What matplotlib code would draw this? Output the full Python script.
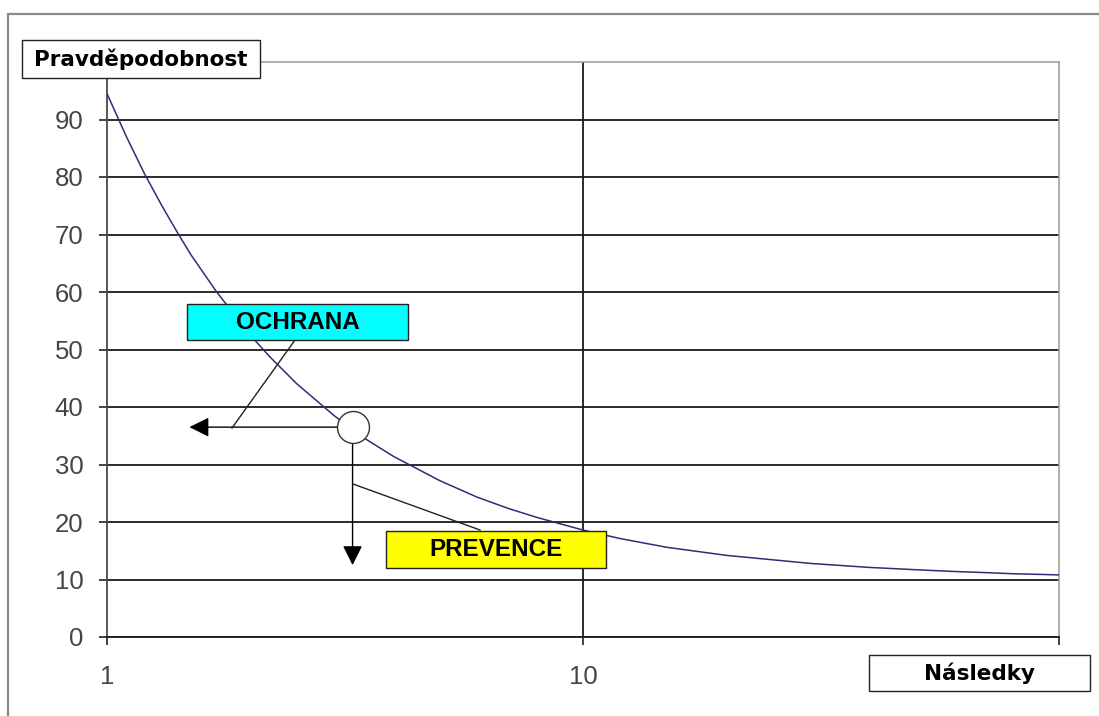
import matplotlib
matplotlib.use("Agg")
import matplotlib.pyplot as plt
from matplotlib.patches import Rectangle

# Consequence (log scale) vs. probability curve
nasledky = [1, 1.1, 1.2, 1.3, 1.4, 1.5, 1.7, 2, 2.2, 2.5, 3, 3.5, 4, 5, 6, 7, 8, 10, 12, 15,
            20, 30, 40, 50, 60, 70, 80, 90, 100]
pravdepodobnost = [94.5, 86.9, 80.5, 75.2, 70.6, 66.5, 60.0, 52.5, 48.7, 44.1, 38.5, 34.4,
                   31.4, 27.2, 24.3, 22.3, 20.8, 18.6, 17.1, 15.6, 14.2, 12.8, 12.1, 11.7,
                   11.4, 11.2, 11.0, 10.9, 10.8]

# Operating point and where the two measures push it
bod_x, bod_y = 3.28, 36.5
ochrana_x = 1.49      # protection lowers the consequences
prevence_y = 12.5     # prevention lowers the probability

x_ticks = [1, 10, 100]
x_tick_labels = ["1", "10", ""]
y_ticks = [0, 10, 20, 30, 40, 50, 60, 70, 80, 90]
y_tick_labels = [str(v) for v in y_ticks]

W, H = 1099, 716
fig = plt.figure(figsize=(W / 100, H / 100), dpi=100)
fig.patch.set_facecolor("white")

# outer chart frame
fig.add_artist(Rectangle((8 / W, -0.05), 1.2, (H - 14) / H + 0.05, transform=fig.transFigure,
                         fill=False, edgecolor="#8a8a8a", linewidth=1.6, clip_on=False))

ax = fig.add_axes([107 / W, (H - 637) / H, (1059 - 107) / W, (637 - 62) / H])
ax.set_xscale("log")
ax.set_xlim(1, 100)
ax.set_ylim(0, 100)

ax.set_xticks(x_ticks)
ax.set_xticklabels(x_tick_labels)
ax.xaxis.set_minor_locator(matplotlib.ticker.NullLocator())
ax.set_yticks(y_ticks)
ax.set_yticklabels(y_tick_labels)

for lab in ax.get_xticklabels() + ax.get_yticklabels():
    lab.set_fontfamily("Liberation Sans")
    lab.set_fontsize(18.5)
    lab.set_color("#454545")
ax.tick_params(axis="y", direction="out", length=6, width=1.2, color="#222222", pad=11)
ax.tick_params(axis="x", direction="out", length=6, width=1.2, color="#222222", pad=14)

# gridlines
for v in y_ticks:
    ax.axhline(v, color="#1a1a1a", linewidth=1.3, zorder=1)
ax.axvline(10, color="#1a1a1a", linewidth=1.3, zorder=1)

ax.spines["left"].set_color("#4a4a4a")
ax.spines["left"].set_linewidth(1.3)
ax.spines["bottom"].set_color("#1a1a1a")
ax.spines["bottom"].set_linewidth(1.3)
ax.spines["top"].set_color("#9a9a9a")
ax.spines["top"].set_linewidth(1.1)
ax.spines["right"].set_color("#9a9a9a")
ax.spines["right"].set_linewidth(1.1)

# curve
ax.plot(nasledky, pravdepodobnost, color="#2e2e74", linewidth=1.1, zorder=3)

# arrows out of the operating point
arrow_kw = dict(arrowstyle="-|>,head_length=0.8,head_width=0.4", color="black",
                linewidth=1.0, mutation_scale=15, shrinkA=11, shrinkB=0)
ax.annotate("", xy=(ochrana_x, bod_y), xytext=(bod_x, bod_y), arrowprops=arrow_kw, zorder=4)
ax.annotate("", xy=(bod_x, prevence_y), xytext=(bod_x, bod_y), arrowprops=arrow_kw, zorder=4)
ax.plot([bod_x], [bod_y], marker="o", markersize=23, markerfacecolor="white",
        markeredgecolor="#333333", markeredgewidth=1.0, zorder=5)

# leader lines from the labels
ax.plot([(295 - 107) / 952, (232 - 107) / 952], [(637 - 340) / 575, (637 - 428) / 575],
        transform=ax.transAxes, color="#222222", linewidth=1.0, zorder=4)
ax.plot([(353 - 107) / 952, (480 - 107) / 952], [(637 - 484) / 575, (637 - 530) / 575],
        transform=ax.transAxes, color="#222222", linewidth=1.0, zorder=4)

# label boxes
def box(owner, x0, y0, x1, y1, face, text, family, size, transform):
    owner.add_artist(Rectangle((x0, y0), x1 - x0, y1 - y0, transform=transform,
                               facecolor=face, edgecolor="#222222", linewidth=1.0,
                               zorder=6, clip_on=False))
    owner.text((x0 + x1) / 2, (y0 + y1) / 2, text, transform=transform, ha="center",
               va="center", fontsize=size, fontweight="bold", family=family,
               color="black", zorder=7)

box(ax, (187 - 107) / 952, (637 - 340) / 575, (408 - 107) / 952, (637 - 304) / 575,
    "#00ffff", "OCHRANA", "Liberation Sans", 17.5, ax.transAxes)
box(ax, (386 - 107) / 952, (637 - 568) / 575, (606 - 107) / 952, (637 - 531) / 575,
    "#ffff00", "PREVENCE", "Liberation Sans", 17.5, ax.transAxes)

# axis title boxes
box(fig, 22 / W, (H - 78) / H, 260 / W, (H - 40) / H, "white", "Pravděpodobnost",
    "DejaVu Sans", 15.5, fig.transFigure)
box(fig, 869 / W, (H - 691) / H, 1090 / W, (H - 655) / H, "white", "Následky",
    "DejaVu Sans", 15.5, fig.transFigure)

fig.savefig("out.png", dpi=100)
